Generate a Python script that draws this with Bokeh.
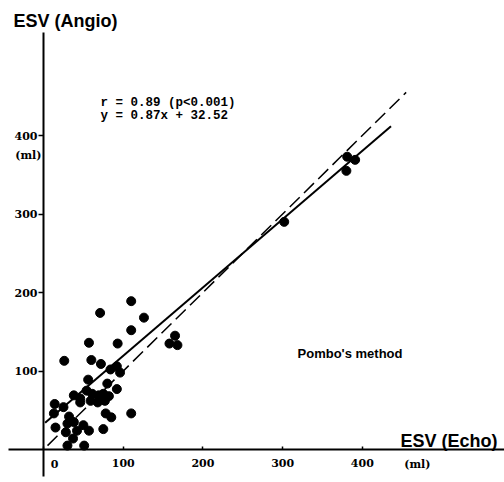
from bokeh.plotting import figure
from bokeh.models import LinearAxis, FixedTicker, Range1d, Label
from bokeh.embed import file_html
from bokeh.resources import INLINE

# ESV measured by echo (x) vs angiography (y), ml
echo = [110, 71, 126, 110, 57, 93, 26, 60, 72, 84, 92, 96, 56, 80, 92, 38,
        54, 61, 69, 75, 82, 59, 68, 77, 46, 14, 25, 46, 13, 32, 78, 85, 110,
        15, 30, 38, 50, 57, 28, 42, 75, 37, 30, 51, 165, 158, 168, 302, 381,
        391, 380]
angio = [189, 174, 168, 152, 136, 135, 113, 114, 109, 102, 106, 98, 89, 84,
         77, 69, 75, 71, 69, 71, 68, 62, 60, 62, 65, 58, 54, 60, 46, 42, 46,
         41, 46, 28, 33, 35, 31, 24, 22, 24, 26, 14, 5, 5, 145, 135, 133, 290,
         373, 369, 355]

x_ticks = [0, 100, 200, 300, 400]
y_ticks = [100, 200, 300, 400]

slope = 0.87
intercept = 32.52
fit_x = [2, 436]
fit_y = [slope * v + intercept for v in fit_x]
ident_x = [5, 455]
ident_y = [5, 455]

p = figure(width=504, height=482, output_backend="svg", toolbar_location=None,
           x_axis_type=None, y_axis_type=None,
           x_range=Range1d(-54, 578.4), y_range=Range1d(-42, 572),
           min_border=0)
p.outline_line_color = None
p.background_fill_color = "white"

xaxis = LinearAxis(fixed_location=0, bounds=(-44, 578),
                   ticker=FixedTicker(ticks=x_ticks),
                   major_label_overrides={0: ""})
xaxis.axis_line_width = 2
xaxis.axis_line_color = "black"
xaxis.major_tick_in = 3
xaxis.major_tick_out = 0
xaxis.major_tick_line_width = 1.5
xaxis.minor_tick_line_color = None
xaxis.major_label_standoff = 9
xaxis.major_label_text_font = "DejaVu Serif"
xaxis.major_label_text_font_style = "bold"
xaxis.major_label_text_font_size = "11px"
xaxis.major_label_text_color = "black"
p.add_layout(xaxis, "below")

yaxis = LinearAxis(fixed_location=0, bounds=(-34, 531),
                   ticker=FixedTicker(ticks=y_ticks))
yaxis.axis_line_width = 2
yaxis.axis_line_color = "black"
yaxis.major_tick_in = 0
yaxis.major_tick_out = 5
yaxis.major_tick_line_width = 1.5
yaxis.minor_tick_line_color = None
yaxis.major_label_standoff = 1
yaxis.major_label_text_font = "DejaVu Serif"
yaxis.major_label_text_font_style = "bold"
yaxis.major_label_text_font_size = "11px"
yaxis.major_label_text_color = "black"
p.add_layout(yaxis, "left")

p.line(ident_x, ident_y, line_color="black", line_width=1.5, line_dash="14 6")
p.line(fit_x, fit_y, line_color="black", line_width=2)
p.scatter(echo, angio, size=9, fill_color="black", line_color="black")

def add_label(text, x, y, font, size, style="bold", align="left"):
    p.add_layout(Label(x=x, y=y, text=text, text_font=font,
                       text_font_size=size, text_font_style=style,
                       text_align=align, text_baseline="middle",
                       text_color="black"))

add_label("ESV (Angio)", -37.6, 546, "Liberation Sans", "18px")
add_label("ESV (Echo)", 448, 11.5, "Liberation Sans", "18px")
add_label("(ml)", 469, -19, "DejaVu Serif", "11px", align="center")
add_label("(ml)", -19, 374, "DejaVu Serif", "11px", align="center")
add_label("0", 14, -19, "DejaVu Serif", "11px", align="center")
add_label("r = 0.89 (p<0.001)", 71.5, 442, "Liberation Mono", "12.5px")
add_label("y = 0.87x + 32.52", 71.5, 425.5, "Liberation Mono", "12.5px")
add_label("Pombo's method", 318.7, 122, "Liberation Sans", "13px")

open("out.html", "w").write(file_html(p, INLINE))
